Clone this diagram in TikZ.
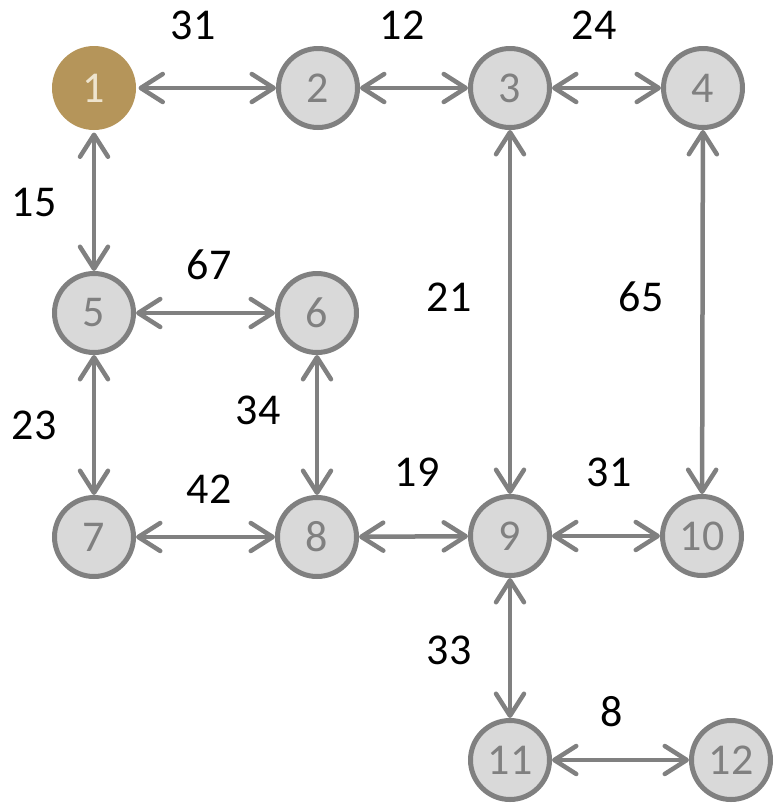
\documentclass[tikz,border=0pt]{standalone}
\usepackage{fontspec}
\setmainfont{Carlito}
\usetikzlibrary{arrows.meta}
\definecolor{gold}{RGB}{181,149,90}
\definecolor{goldtext}{RGB}{238,228,206}
\definecolor{nodefill}{RGB}{217,217,217}
\definecolor{edgegray}{RGB}{128,128,128}
\tikzset{
  vert/.style={circle, minimum size=79pt, inner sep=0pt, line width=5pt, draw=edgegray, fill=nodefill, text=edgegray, font=\fontsize{44}{44}\selectfont},
  start/.style={vert, draw=none, minimum size=84pt, fill=gold, text=goldtext},
  link/.style={line width=4.5pt, draw=edgegray, line cap=round, {Straight Barb[length=22pt,width=28pt,line cap=round,line join=round]}-{Straight Barb[length=22pt,width=28pt,line cap=round,line join=round]}},
  wt/.style={font=\fontsize{44}{44}\selectfont, text=black, inner sep=0pt}
}
\begin{document}
\begin{tikzpicture}[x=1pt,y=-1pt]
\useasboundingbox (0,0) rectangle (775,804);
\node[start] (n1) at (94,88) {1};
\node[vert] (n2) at (318,88) {2};
\node[vert] (n3) at (510,88) {3};
\node[vert] (n4) at (703,88) {4};
\node[vert] (n5) at (94,313) {5};
\node[vert] (n6) at (317,313) {6};
\node[vert] (n7) at (94,537) {7};
\node[vert] (n8) at (317,537) {8};
\node[vert] (n9) at (510,536) {9};
\node[vert] (n10) at (702,536) {10};
\node[vert] (n11) at (510,760) {11};
\node[vert] (n12) at (731,760) {12};
\draw[link] (n1) -- (n2);
\draw[link] (n2) -- (n3);
\draw[link] (n3) -- (n4);
\draw[link] (n1) -- (n5);
\draw[link] (n5) -- (n6);
\draw[link] (n3) -- (n9);
\draw[link] (n4) -- (n10);
\draw[link] (n5) -- (n7);
\draw[link] (n6) -- (n8);
\draw[link] (n7) -- (n8);
\draw[link] (n8) -- (n9);
\draw[link] (n9) -- (n10);
\draw[link] (n9) -- (n11);
\draw[link] (n11) -- (n12);
\node[wt] (w12) at (193,25) {31};
\node[wt] (w23) at (402,25) {12};
\node[wt] (w34) at (594,25) {24};
\node[wt] (w15) at (34,202) {15};
\node[wt] (w56) at (209,265) {67};
\node[wt] (w39) at (449,297) {21};
\node[wt] (w410) at (641,297) {65};
\node[wt] (w57) at (34,425) {23};
\node[wt] (w68) at (258,410) {34};
\node[wt] (w78) at (209,489) {42};
\node[wt] (w89) at (417,472) {19};
\node[wt] (w910) at (609,472) {31};
\node[wt] (w911) at (449,650) {33};
\node[wt] (w1112) at (612,712) {8};
\end{tikzpicture}
\end{document}
